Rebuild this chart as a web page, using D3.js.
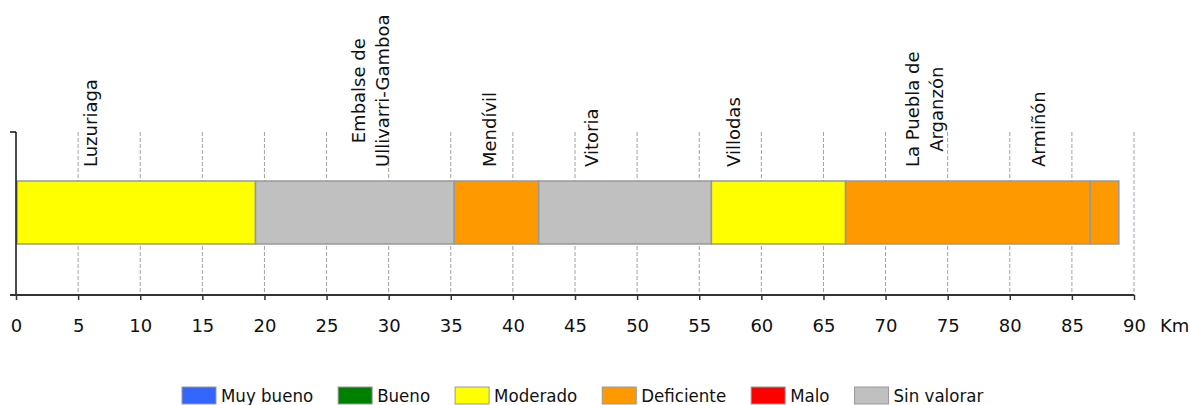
<!DOCTYPE html>
<html>
<head>
<meta charset="utf-8">
<script src="https://cdn.jsdelivr.net/npm/d3@7/dist/d3.min.js"></script>
<style>
  html, body { margin: 0; padding: 0; background: #fff; }
  svg { display: block; }
</style>
</head>
<body>
<svg id="chart" width="1190" height="405"></svg>
<script>
// ---- data ----
const categories = ["Muy bueno", "Bueno", "Moderado", "Deficiente", "Malo", "Sin valorar"];
const palette = ["#3366FF", "#008000", "#FFFF00", "#FF9900", "#FF0000", "#C0C0C0"];

const segStart  = [0,    19.2, 35.2, 42.0, 55.9, 66.7, 86.4];
const segEnd    = [19.2, 35.2, 42.0, 55.9, 66.7, 86.4, 88.7];
const segStatus = ["Moderado", "Sin valorar", "Deficiente", "Sin valorar", "Moderado", "Deficiente", "Deficiente"];

const towns  = ["Luzuriaga", "Embalse de\nUllivarri-Gamboa", "Mendívil", "Vitoria", "Villodas", "La Puebla de\nArganzón", "Armiñón"];
const townKm = [6.0, 28.5, 38.1, 46.3, 57.8, 73.1, 82.3];

const xTicks = [0, 5, 10, 15, 20, 25, 30, 35, 40, 45, 50, 55, 60, 65, 70, 75, 80, 85, 90];
const unitLabel = "Km";

// ---- layout ----
const svg = d3.select("#chart");
const FONT = "'DejaVu Sans', Verdana, sans-serif";
const axisY = 295, gridTop = 132;
const barTop = 181, barBottom = 244;
const labelBottom = 167;

const x = d3.scaleLinear().domain([0, 90]).range([16, 1134]);
const color = d3.scaleOrdinal().domain(categories).range(palette);

// gridlines
svg.append("g").selectAll("line")
  .data(xTicks.filter(d => d > 0))
  .join("line")
  .attr("x1", d => x(d)).attr("x2", d => x(d))
  .attr("y1", gridTop).attr("y2", axisY)
  .attr("stroke", "#a0a0a0").attr("stroke-width", 1)
  .attr("stroke-dasharray", "4,2");

// bars
const segs = segStart.map((s, i) => ({ s, e: segEnd[i], st: segStatus[i] }));
svg.append("g").selectAll("rect")
  .data(segs)
  .join("rect")
  .attr("x", d => x(d.s) + 1)
  .attr("width", d => x(d.e) - x(d.s))
  .attr("y", barTop)
  .attr("height", barBottom - barTop)
  .attr("fill", d => color(d.st))
  .attr("stroke", "#999").attr("stroke-width", 1.5);

// y axis line
svg.append("line")
  .attr("x1", x(0)).attr("x2", x(0))
  .attr("y1", gridTop).attr("y2", axisY)
  .attr("stroke", "#111").attr("stroke-width", 1.5);
svg.append("line")
  .attr("x1", x(0) - 6).attr("x2", x(0))
  .attr("y1", gridTop).attr("y2", gridTop)
  .attr("stroke", "#111").attr("stroke-width", 1.5);

// x axis
const xAxis = d3.axisBottom(x).tickValues(xTicks).tickSize(5).tickPadding(19).tickFormat(d3.format("d"));
const gx = svg.append("g").attr("transform", `translate(0,${axisY})`).call(xAxis);
gx.select(".domain").remove();
gx.selectAll(".tick line").attr("stroke", "#333").attr("stroke-width", 1.5);
gx.selectAll(".tick text").attr("font-family", FONT).attr("font-size", 18).attr("fill", "#111");
svg.append("line")
  .attr("x1", x(0) - 6).attr("x2", x(90))
  .attr("y1", axisY).attr("y2", axisY)
  .attr("stroke", "#333").attr("stroke-width", 2);
svg.append("text")
  .attr("x", x(90) + 26).attr("y", axisY + 24).attr("dy", "0.71em")
  .attr("font-family", FONT).attr("font-size", 18).attr("fill", "#111")
  .text(unitLabel);

// town labels (rotated)
const lineGap = 24;
towns.forEach((name, i) => {
  const lines = name.split("\n");
  const g = svg.append("g")
    .attr("transform", `translate(${x(townKm[i])},${labelBottom}) rotate(-90)`);
  const texts = lines.map((ln, j) => g.append("text")
    .attr("font-family", FONT).attr("font-size", 18).attr("fill", "#111")
    .attr("y", (j - (lines.length - 1) / 2) * lineGap)
    .attr("dy", "0.36em")
    .text(ln));
  const maxLen = d3.max(texts, t => t.node().getComputedTextLength());
  texts.forEach(t => t.attr("text-anchor", "middle").attr("x", maxLen / 2));
});

// legend
const LFONT = "'DejaVu Sans Condensed', 'DejaVu Sans', sans-serif";
const legend = svg.append("g");
let lx = 182;
const ly = 387;
categories.forEach((c, i) => {
  legend.append("rect")
    .attr("x", lx).attr("y", ly).attr("width", 34).attr("height", 17)
    .attr("fill", palette[i]).attr("stroke", "#999").attr("stroke-width", 1);
  const t = legend.append("text")
    .attr("x", lx + 39).attr("y", ly + 15)
    .attr("font-family", LFONT).attr("font-size", 18.5).attr("fill", "#111")
    .text(c);
  lx += 39 + t.node().getComputedTextLength() + 25;
});
</script>
</body>
</html>
